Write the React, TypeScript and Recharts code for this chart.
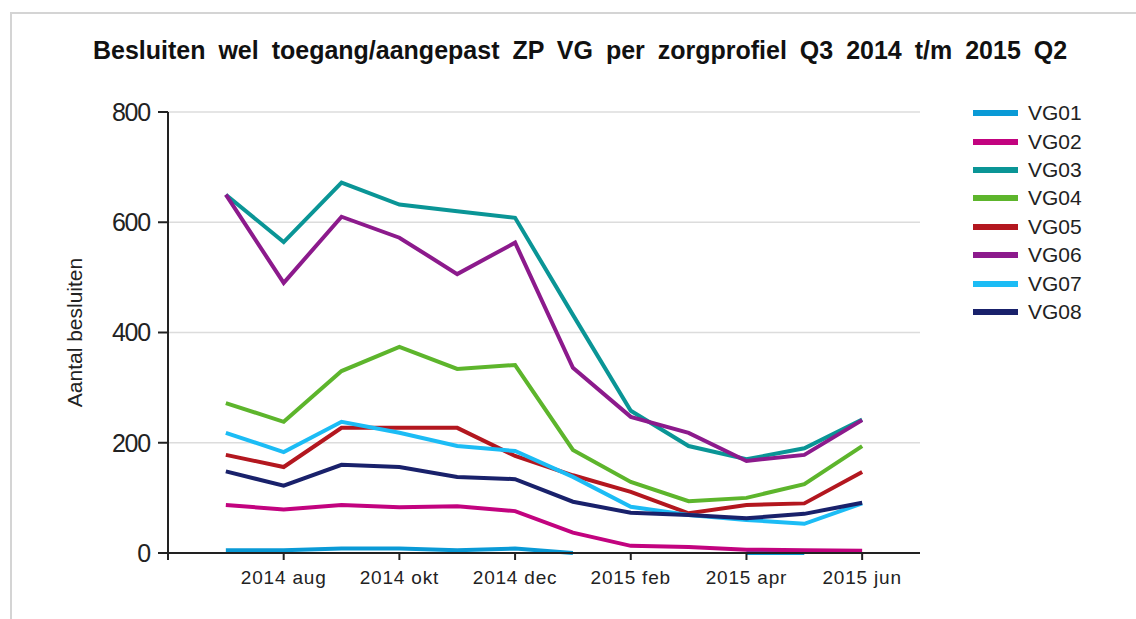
import React from "react";
import { CartesianGrid, Line, LineChart, XAxis, YAxis } from "recharts";

const months = [
  "2014 jul", "2014 aug", "2014 sep", "2014 okt", "2014 nov", "2014 dec",
  "2015 jan", "2015 feb", "2015 mrt", "2015 apr", "2015 mei", "2015 jun",
];

const tickPositions = [-1, 1, 3, 5, 7, 9, 11];

const vg01 = [5, 5, 8, 8, 5, 8, 0, null, null, 0, 0, null];
const vg02 = [87, 79, 87, 83, 85, 76, 37, 13, 11, 6, 5, 4];
const vg03 = [650, 564, 672, 632, 620, 608, 432, 258, 194, 170, 190, 242];
const vg04 = [272, 238, 330, 374, 334, 341, 187, 129, 94, 100, 125, 194];
const vg05 = [178, 156, 227, 227, 227, 176, 141, 111, 72, 87, 90, 147];
const vg06 = [650, 490, 610, 572, 506, 563, 336, 247, 218, 167, 178, 241];
const vg07 = [218, 183, 238, 218, 194, 185, 138, 84, 69, 60, 53, 90];
const vg08 = [148, 122, 160, 156, 138, 134, 93, 73, 69, 63, 71, 91];

const series = [
  { key: "VG01", values: vg01, color: "#0a9ad6" },
  { key: "VG02", values: vg02, color: "#c2037f" },
  { key: "VG03", values: vg03, color: "#0a9596" },
  { key: "VG04", values: vg04, color: "#5db52c" },
  { key: "VG05", values: vg05, color: "#b3171f" },
  { key: "VG06", values: vg06, color: "#8c1a8c" },
  { key: "VG07", values: vg07, color: "#1cbcf5" },
  { key: "VG08", values: vg08, color: "#19216b" },
];

const data = months.map((month, i) => {
  const row: Record<string, any> = { idx: i, month };
  series.forEach((s) => {
    row[s.key] = s.values[i];
  });
  return row;
});

const font = "'Liberation Sans', Arial, sans-serif";

export default function App() {
  return (
    <div style={{ position: "absolute", left: 0, top: 0, width: 1136, height: 619, background: "#fff", fontFamily: font }}>
      <div
        style={{
          position: "absolute",
          left: 10,
          top: 12,
          right: 0,
          bottom: 0,
          borderTop: "2px solid #d4d4d4",
          borderLeft: "2px solid #d4d4d4",
        }}
      />
      <div
        style={{
          position: "absolute",
          left: 0,
          width: 1160,
          top: 36,
          textAlign: "center",
          fontWeight: "bold",
          fontSize: 25,
          color: "#111",
          wordSpacing: 6,
          whiteSpace: "nowrap",
        }}
      >
        Besluiten wel toegang/aangepast ZP VG per zorgprofiel Q3 2014 t/m 2015 Q2
      </div>
      <div style={{ position: "absolute", left: 973, top: 99 }}>
        {series.map((s) => (
          <div key={s.key} style={{ display: "flex", alignItems: "center", height: 28.4 }}>
            <div style={{ width: 45, height: 6, background: s.color, marginRight: 10 }} />
            <span style={{ fontSize: 21, color: "#222" }}>{s.key}</span>
          </div>
        ))}
      </div>
      <LineChart
        width={1136}
        height={619}
        data={data}
        margin={{ top: 112, right: 216, bottom: 20, left: 0 }}
      >
        <CartesianGrid vertical={false} stroke="#dcdcdc" strokeWidth={1.5} />
        <XAxis
          dataKey="idx"
          type="number"
          domain={[-1, 12]}
          ticks={tickPositions}
          tickFormatter={(v: number) => (v >= 0 ? months[v] : "")}
          height={46}
          tickSize={7}
          tickMargin={11}
          axisLine={{ stroke: "#222", strokeWidth: 2 }}
          tickLine={{ stroke: "#222", strokeWidth: 2 }}
          tick={{ fill: "#222", fontSize: 19, fontFamily: font, letterSpacing: 0.8 }}
        />
        <YAxis
          domain={[0, 800]}
          ticks={[0, 200, 400, 600, 800]}
          width={168}
          tickSize={10}
          tickMargin={8}
          axisLine={{ stroke: "#222", strokeWidth: 2 }}
          tickLine={{ stroke: "#222", strokeWidth: 2 }}
          tick={{ fill: "#222", fontSize: 25, fontFamily: font, letterSpacing: -1.2 }}
          label={{
            value: "Aantal besluiten",
            angle: -90,
            position: "center",
            dx: -9,
            fill: "#222",
            fontSize: 21,
            fontFamily: font,
          }}
        />
        {series.map((s) => (
          <Line
            key={s.key}
            type="linear"
            dataKey={s.key}
            stroke={s.color}
            strokeWidth={4}
            dot={false}
            activeDot={false}
            connectNulls={false}
            isAnimationActive={false}
          />
        ))}
      </LineChart>
    </div>
  );
}
